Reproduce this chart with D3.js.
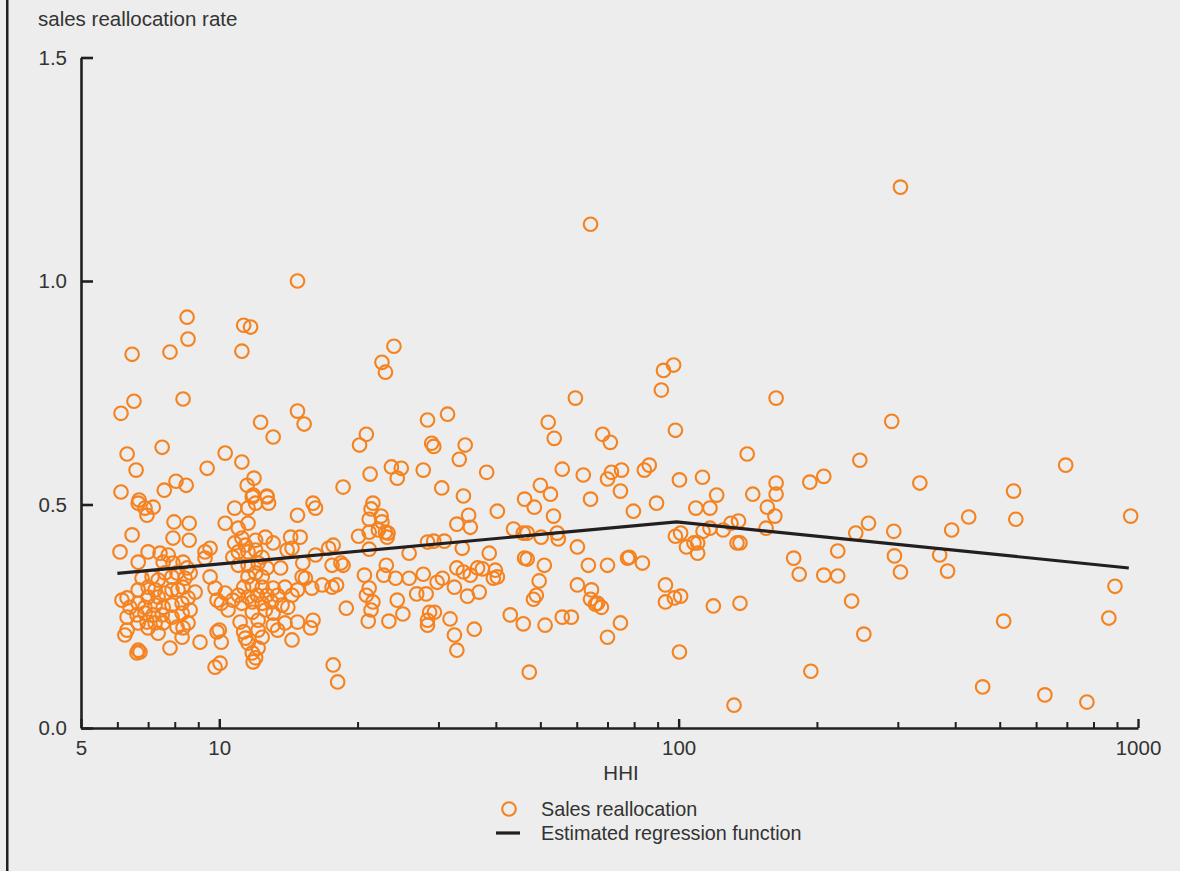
<!DOCTYPE html>
<html><head><meta charset="utf-8">
<script src="https://cdn.jsdelivr.net/npm/d3@7"></script>
<style>
body{margin:0;background:#ecedec}
svg{display:block}
text{font-family:"Liberation Sans",Arial,sans-serif;fill:#333}
</style>
</head><body>
<svg id="chart" width="1180" height="871"></svg>
<script>
// ---- data ----
const hhi = [
 304,163,291,141,248,696,335,207,193,163,
 163,145,536,156,162,135,130,155,134,136,
 428,542,964,259,243,294,393,222,178,183,
 207,222,295,304,370,385,891,136,238,864,
 510,253,194,459,627,774,132,
 97.5,92.7,91.7,59.6,52.0,53.6,98.4,68.3,71.0,55.8,
 62.0,71.4,70.0,75.1,84.2,86.3,100.4,112.7,50.0,52.6,
 46.2,48.5,64.3,74.7,89.5,121,109,117,79.7,53.4,
 45.9,46.8,50.2,54.4,54.7,60.2,98.4,101,104,108,
 110,110,113,117,125,46.2,46.8,51.0,63.6,70.0,
 77.4,78.1,83.4,49.7,49.0,48.3,60.2,64.6,64.3,66.6,
 67.9,65.9,93.6,93.6,97.9,101,119,45.9,51.2,55.8,
 58.4,74.7,70.0,100.4,47.3,
 24.0,22.6,23.0,31.4,28.4,20.9,20.2,29.0,29.3,34.3,
 33.3,38.2,21.3,23.7,24.9,24.4,27.8,18.6,30.5,34.0,
 21.6,21.4,21.2,22.5,22.6,21.2,22.2,23.0,23.3,23.2,
 40.3,34.9,32.9,35.2,20.1,43.7,17.7,21.2,25.9,28.4,
 29.3,30.9,33.8,38.7,18.4,18.6,23.1,20.7,22.8,24.2,
 25.9,27.8,29.8,30.6,32.5,32.9,34.0,35.2,36.5,37.4,
 39.9,40.3,39.5,18.0,21.2,20.9,21.6,21.4,21.1,24.4,
 26.9,28.2,34.7,36.8,18.9,25.1,23.4,28.7,29.4,28.4,
 28.4,31.8,35.9,32.5,32.9,43.0,17.7,18.1,
 14.8,8.51,11.3,11.7,8.55,6.46,7.81,11.2,6.52,6.11,
 8.34,12.3,14.8,15.3,13.1,6.30,6.59,7.51,9.41,10.3,
 11.2,6.11,6.69,7.59,8.05,8.47,11.9,11.5,11.85,12.7,
 6.66,6.96,7.18,6.89,7.97,8.60,6.46,7.93,8.60,6.08,
 6.66,7.00,7.43,7.74,7.55,7.93,8.34,8.51,9.31,9.55,
 9.31,6.79,7.14,7.36,7.62,7.89,8.09,8.64,8.42,8.34,
 9.55,9.79,6.66,7.00,7.25,7.00,7.36,7.62,7.89,8.13,
 6.14,6.30,6.39,6.66,6.89,7.25,7.55,7.89,8.30,8.55,
 8.86,9.89,6.30,6.62,6.89,7.18,7.51,7.89,8.30,8.64,
 6.66,6.96,7.25,7.55,8.09,8.55,6.30,6.23,7.00,7.36,
 8.34,8.30,9.89,9.08,6.66,6.62,6.72,7.81,9.79,10.04,
 11.8,12.7,12.8,12.0,11.55,10.8,16.0,16.2,14.8,10.3,
 11.0,11.55,11.2,10.8,11.4,12.0,12.6,13.1,14.3,15.0,
 14.4,14.05,17.3,10.7,11.0,11.55,12.0,12.4,16.2,11.0,
 11.55,12.15,12.7,13.6,15.2,15.15,15.4,17.6,11.55,12.0,
 12.4,11.3,11.8,12.4,13.1,13.9,14.8,15.9,16.75,17.6,
 10.3,11.0,11.55,12.1,12.7,13.4,14.4,10.1,10.7,11.2,
 11.8,12.4,13.0,13.7,14.1,10.45,11.8,12.6,13.1,11.1,
 12.15,13.1,13.9,14.8,16.0,10.0,11.3,12.15,13.4,15.8,
 10.1,11.4,11.55,12.4,14.4,11.8,12.15,12.0,11.85,
 64.3
];
const salesRealloc = [
 1.210,0.738,0.686,0.613,0.599,0.588,0.548,0.563,0.550,0.548,
 0.523,0.523,0.530,0.494,0.474,0.463,0.458,0.447,0.414,0.414,
 0.472,0.467,0.474,0.458,0.436,0.440,0.443,0.396,0.380,0.344,
 0.342,0.340,0.385,0.349,0.387,0.351,0.317,0.279,0.284,0.246,
 0.239,0.210,0.127,0.092,0.074,0.058,0.051,
 0.812,0.800,0.756,0.738,0.684,0.648,0.666,0.657,0.639,0.579,
 0.566,0.572,0.557,0.577,0.577,0.588,0.555,0.561,0.543,0.523,
 0.512,0.494,0.512,0.530,0.503,0.521,0.492,0.492,0.485,0.474,
 0.436,0.436,0.427,0.436,0.423,0.405,0.429,0.436,0.405,0.414,
 0.414,0.391,0.440,0.447,0.443,0.380,0.378,0.364,0.364,0.364,
 0.380,0.382,0.369,0.329,0.297,0.288,0.320,0.309,0.288,0.279,
 0.270,0.277,0.320,0.282,0.291,0.295,0.273,0.233,0.230,0.248,
 0.248,0.235,0.203,0.170,0.125,
 0.854,0.818,0.796,0.702,0.689,0.657,0.633,0.637,0.630,0.633,
 0.601,0.572,0.568,0.584,0.581,0.559,0.577,0.539,0.537,0.519,
 0.503,0.490,0.467,0.474,0.461,0.438,0.443,0.438,0.436,0.427,
 0.485,0.476,0.456,0.449,0.429,0.445,0.409,0.400,0.391,0.416,
 0.418,0.418,0.402,0.391,0.369,0.364,0.364,0.342,0.342,0.335,
 0.335,0.344,0.326,0.335,0.315,0.358,0.349,0.342,0.358,0.356,
 0.353,0.338,0.335,0.320,0.313,0.297,0.282,0.264,0.239,0.286,
 0.300,0.300,0.295,0.304,0.268,0.255,0.239,0.259,0.259,0.241,
 0.230,0.244,0.221,0.208,0.174,0.253,0.141,0.103,
 1.000,0.919,0.901,0.897,0.870,0.836,0.841,0.843,0.731,0.704,
 0.736,0.684,0.709,0.680,0.651,0.613,0.577,0.628,0.581,0.615,
 0.595,0.528,0.510,0.532,0.552,0.543,0.559,0.543,0.521,0.519,
 0.503,0.476,0.494,0.492,0.461,0.458,0.432,0.425,0.420,0.394,
 0.371,0.394,0.391,0.387,0.371,0.369,0.371,0.358,0.394,0.402,
 0.380,0.335,0.338,0.331,0.347,0.338,0.347,0.347,0.335,0.315,
 0.338,0.313,0.309,0.315,0.309,0.293,0.293,0.302,0.309,0.309,
 0.286,0.291,0.270,0.279,0.270,0.275,0.270,0.275,0.279,0.291,
 0.304,0.286,0.248,0.253,0.257,0.253,0.253,0.248,0.257,0.264,
 0.235,0.237,0.235,0.235,0.226,0.235,0.219,0.208,0.224,0.212,
 0.224,0.203,0.215,0.192,0.174,0.168,0.170,0.179,0.136,0.145,
 0.517,0.517,0.503,0.503,0.492,0.492,0.503,0.492,0.476,0.458,
 0.447,0.458,0.425,0.414,0.409,0.420,0.427,0.414,0.427,0.427,
 0.402,0.398,0.402,0.382,0.394,0.394,0.398,0.382,0.387,0.364,
 0.364,0.369,0.358,0.358,0.369,0.338,0.335,0.364,0.338,0.347,
 0.338,0.315,0.320,0.315,0.313,0.315,0.309,0.313,0.320,0.315,
 0.302,0.297,0.293,0.297,0.297,0.297,0.297,0.279,0.286,0.279,
 0.282,0.279,0.282,0.275,0.270,0.264,0.259,0.264,0.257,0.237,
 0.241,0.230,0.235,0.237,0.241,0.219,0.215,0.219,0.219,0.224,
 0.192,0.201,0.190,0.203,0.197,0.168,0.179,0.157,0.148,
 1.127
];
const regHHI  = [6.0, 99, 955];
const regRate = [0.346, 0.461, 0.358];
const xMajorTicks = [5, 10, 100, 1000];
const xMinorTicks = [6,7,8,9,20,30,40,50,60,70,80,90,200,300,400,500,600,700,800,900];
const yTicks = [0, 0.5, 1.0, 1.5];
const yTitle = "sales reallocation rate";
const xTitle = "HHI";
const legendLabels = ["Sales reallocation", "Estimated regression function"];

// ---- drawing ----
const svg = d3.select("#chart");
const ORANGE = "#f5821f", DARK = "#231f20";
const FS = 20.5, LFS = 19.8;
const x = d3.scaleLog().domain([5, 1000]).range([81, 1138]);
const y = d3.scaleLinear().domain([0, 1.5]).range([728, 57.5]);

svg.append("rect").attr("width", 1180).attr("height", 871).attr("fill", "#ecedec");
svg.append("rect").attr("x", 6).attr("y", 0).attr("width", 2.5).attr("height", 871).attr("fill", DARK);

svg.append("text").attr("x", 38).attr("y", 26).attr("font-size", FS).text(yTitle);

// points
const pts = hhi.map((h, i) => ({h, v: salesRealloc[i]}));
svg.append("g").selectAll("circle").data(pts).join("circle")
  .attr("cx", d => x(d.h)).attr("cy", d => y(d.v)).attr("r", 6.8)
  .attr("fill", "none").attr("stroke", ORANGE).attr("stroke-width", 2.1);

// regression line
const reg = regHHI.map((h, i) => ({h, v: regRate[i]}));
svg.append("path").datum(reg)
  .attr("d", d3.line().x(d => x(d.h)).y(d => y(d.v)))
  .attr("fill", "none").attr("stroke", DARK).attr("stroke-width", 3.2);

// x axis minor ticks
const gMinor = svg.append("g").attr("transform", "translate(0,728)")
  .call(d3.axisBottom(x).tickValues(xMinorTicks).tickSize(-6).tickFormat(""));
gMinor.select(".domain").remove();
gMinor.selectAll("line").attr("stroke", DARK).attr("stroke-width", 2);

// x axis major
const gx = svg.append("g").attr("transform", "translate(0,728)")
  .call(d3.axisBottom(x).tickValues(xMajorTicks).tickFormat(d3.format("d"))
        .tickSizeInner(-9).tickSizeOuter(0).tickPadding(12));
gx.attr("font-size", FS).attr("font-family", null);
gx.select(".domain").attr("stroke", DARK).attr("stroke-width", 2.6);
gx.selectAll(".tick line").attr("stroke", DARK).attr("stroke-width", 2.4);
gx.selectAll(".tick text").attr("fill", "#333");

// y axis
const gy = svg.append("g").attr("transform", "translate(81,0)")
  .call(d3.axisLeft(y).tickValues(yTicks).tickFormat(d3.format(".1f"))
        .tickSizeInner(-12).tickSizeOuter(0).tickPadding(14));
gy.attr("font-size", FS).attr("font-family", null);
gy.select(".domain").attr("stroke", DARK).attr("stroke-width", 2.6);
gy.selectAll(".tick line").attr("stroke", DARK).attr("stroke-width", 2.6);
gy.selectAll(".tick text").attr("fill", "#333");

svg.append("text").attr("x", 621).attr("y", 780).attr("text-anchor", "middle")
  .attr("font-size", FS).text(xTitle);

// legend
svg.append("circle").attr("cx", 509).attr("cy", 809).attr("r", 6.8)
  .attr("fill", "none").attr("stroke", ORANGE).attr("stroke-width", 2.1);
svg.append("line").attr("x1", 496).attr("x2", 520).attr("y1", 833).attr("y2", 833)
  .attr("stroke", DARK).attr("stroke-width", 3.2);
svg.append("text").attr("x", 541).attr("y", 816).attr("font-size", LFS).text(legendLabels[0]);
svg.append("text").attr("x", 541).attr("y", 840).attr("font-size", LFS).text(legendLabels[1]);
</script>
</body></html>
